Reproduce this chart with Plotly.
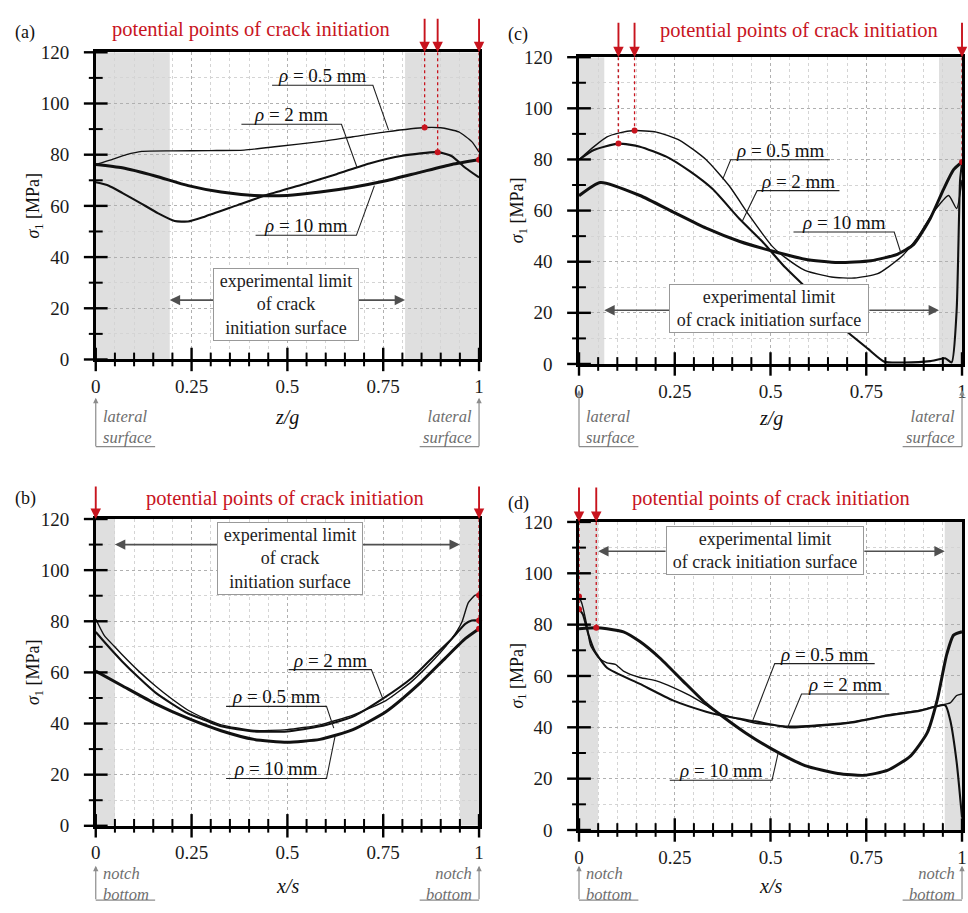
import plotly.graph_objects as go

SERIF = "Liberation Serif, Times New Roman, serif"
RED = "#c8141e"
INK = "#111111"
W, H = 968, 913

# ---------------- data: (a) sigma_1 along z/g ----------------
a_x_05 = [0, 0.04, 0.08, 0.12, 0.2, 0.3, 0.387, 0.473, 0.585, 0.671, 0.757, 0.858, 0.9, 0.947, 0.981, 1.0]
a_y_05 = [76.2, 78.0, 80.0, 81.3, 81.5, 81.6, 81.8, 83.2, 85.1, 87.0, 88.9, 90.6, 90.5, 88.9, 85.1, 81.0]
a_x_2 = [0, 0.034, 0.07, 0.112, 0.163, 0.206, 0.241, 0.284, 0.37, 0.451, 0.542, 0.628, 0.714, 0.8, 0.892, 0.929, 0.964, 1.0]
a_y_2 = [69.2, 67.9, 65.0, 61.5, 57.1, 54.1, 53.9, 55.8, 60.3, 64.5, 68.5, 72.4, 76.6, 79.6, 81.0, 79.4, 74.9, 71.1]
a_x_10 = [0, 0.069, 0.155, 0.241, 0.327, 0.413, 0.499, 0.585, 0.671, 0.757, 0.843, 0.929, 1.0]
a_y_10 = [76.2, 74.9, 71.7, 67.9, 65.4, 64.1, 64.1, 65.4, 67.3, 69.8, 73.0, 76.2, 78.0]

# ---------------- data: (c) sigma_1 along z/g ----------------
c_x_05 = [0, 0.039, 0.073, 0.103, 0.145, 0.202, 0.263, 0.332, 0.392, 0.444, 0.504, 0.538, 0.59, 0.659,
          0.719, 0.78, 0.84, 0.883, 0.926, 0.965, 0.986, 1.0]
c_y_05 = [79.9, 85.0, 88.8, 90.3, 91.3, 90.7, 87.5, 79.9, 69.7, 58.2, 46.1, 41.7, 36.6, 34.0,
          33.6, 35.3, 41.7, 49.3, 59.5, 65.9, 60.8, 72.0]
c_x_2 = [0, 0.039, 0.103, 0.159, 0.228, 0.289, 0.349, 0.418, 0.478, 0.538, 0.59, 0.642, 0.702, 0.754,
         0.797, 0.848, 0.917, 0.956, 0.973, 0.986, 0.995, 1.0]
c_y_2 = [79.9, 83.7, 86.2, 85.0, 81.1, 75.4, 68.4, 56.9, 48.0, 37.8, 30.2, 21.3, 12.4, 6.0,
         0.9, 0.6, 1.1, 2.2, 0.6, 21.0, 72.0, 78.6]
c_x_10 = [0, 0.056, 0.159, 0.245, 0.332, 0.418, 0.504, 0.59, 0.676, 0.762, 0.831, 0.874, 0.917, 0.952, 0.978, 1.0]
c_y_10 = [65.8, 71.0, 65.9, 59.5, 53.1, 48.0, 44.2, 41.0, 39.7, 40.4, 42.9, 46.8, 56.9, 68.4, 76.0, 79.0]

# ---------------- data: (b) sigma_1 along x/s ----------------
b_x_05 = [0, 0.022, 0.047, 0.069, 0.112, 0.155, 0.198, 0.241, 0.284, 0.327, 0.413, 0.499, 0.585, 0.671,
          0.757, 0.826, 0.886, 0.929, 0.955, 0.972, 0.99, 1.0]
b_y_05 = [80.9, 74.5, 70.4, 66.9, 60.5, 54.8, 49.7, 45.2, 42.0, 39.5, 37.3, 37.6, 39.5, 43.3,
          49.0, 56.7, 65.6, 73.2, 79.6, 87.3, 90.2, 90.2]
b_x_2 = [0, 0.026, 0.069, 0.112, 0.155, 0.198, 0.241, 0.284, 0.327, 0.413, 0.499, 0.585, 0.671, 0.749,
         0.826, 0.886, 0.929, 0.964, 0.981, 1.0]
b_y_2 = [75.8, 71.3, 64.3, 58.0, 52.2, 47.8, 43.9, 41.4, 38.9, 36.9, 36.9, 38.9, 42.7, 49.7,
         58.0, 66.9, 73.2, 79.0, 80.3, 80.3]
b_x_10 = [0, 0.069, 0.155, 0.241, 0.327, 0.413, 0.499, 0.585, 0.671, 0.757, 0.843, 0.912, 0.964, 1.0]
b_y_10 = [60.5, 54.8, 47.8, 42.0, 37.2, 33.8, 32.7, 33.8, 37.6, 44.6, 55.4, 65.6, 73.2, 77.1]

# ---------------- data: (d) sigma_1 along x/s ----------------
d_x_05 = [0, 0.008, 0.02, 0.03, 0.052, 0.073, 0.095, 0.116, 0.159, 0.202, 0.245, 0.289, 0.332, 0.366,
          0.461, 0.547, 0.633, 0.719, 0.805, 0.891, 0.943, 0.969, 0.986, 1.0]
d_y_05 = [91.0, 88.0, 80.0, 72.0, 67.0, 65.1, 64.5, 61.9, 59.4, 58.1, 55.6, 52.4, 48.6, 45.4,
          41.6, 40.4, 41.0, 42.3, 44.8, 46.7, 48.6, 49.5, 52.4, 53.0]
d_x_2 = [0, 0.01, 0.025, 0.04, 0.073, 0.159, 0.245, 0.332, 0.366, 0.461, 0.547, 0.633, 0.719, 0.805,
         0.891, 0.956, 0.969, 0.986, 1.0]
d_y_2 = [86.0, 84.0, 76.0, 70.0, 63.2, 56.9, 50.5, 46.1, 44.8, 42.3, 40.0, 40.7, 42.0, 44.5,
         46.5, 48.6, 42.9, 26.4, 4.8]
d_x_10 = [0, 0.045, 0.073, 0.116, 0.159, 0.211, 0.271, 0.332, 0.375, 0.435, 0.504, 0.59, 0.676, 0.745,
          0.805, 0.866, 0.909, 0.935, 0.96, 0.978, 1.0]
d_y_10 = [78.4, 78.8, 78.4, 77.2, 73.4, 67.0, 58.1, 49.2, 44.2, 37.8, 31.5, 25.1, 22.0, 21.3,
          23.2, 28.9, 37.8, 50.5, 68.3, 75.9, 77.2]

# potential crack initiation points (x position, stress values marked)
a_init = [(0.858, [90.6]), (0.892, [81.0]), (1.0, [78.0])]
c_init = [(0.103, [86.2]), (0.145, [91.3]), (1.0, [79.0])]
b_init = [(0.0, []), (1.0, [90.2, 80.3, 77.1])]
d_init = [(0.0, [91.0, 86.0]), (0.045, [78.8])]

RHO = ["<i>ρ</i> = 0.5 mm", "<i>ρ</i> = 2 mm", "<i>ρ</i> = 10 mm"]
WIDTHS = [1.4, 2.1, 3.0]
Y_TICKS = [0, 20, 40, 60, 80, 100, 120]
Y_MINOR = [10, 30, 50, 70, 90, 110]
X_TICKS = [0, 0.25, 0.5, 0.75, 1]
X_TICK_TEXT = ["0", "0.25", "0.5", "0.75", "1"]
X_MINOR = [round(0.05 * i, 2) for i in range(1, 20) if i % 5]
X_RANGE = (0.0, 1.0)
Y_RANGE = (0.0, 120.0)


def px(p):
    return p / W


def py(p):
    return 1 - p / H


panels = [
    dict(n=1, letter="(a)", pxr=(91.7, 479.0), pyr=(43.3, 357.7), xt="<i>z/g</i>",
         note="lateral<br>surface",
         series=[(a_x_05, a_y_05), (a_x_2, a_y_2), (a_x_10, a_y_10)],
         shade=[(0, 0.193), (0.807, 1)], init=a_init,
         labels=[(0, 0.46, 0.723, 107.1, "r", 0.764, 89.6),
                 (1, 0.38, 0.641, 91.9, "r", 0.682, 74.9),
                 (2, 0.417, 0.68, 48.5, "r", 0.727, 67.9)],
         box=("experimental limit<br>of crack<br>initiation surface", 0.497, 21.3, 140,
              23.2, (0.193, 0.31), (0.807, 0.682)),
         xt_py=416.7, yt_px=30, note_tip=397, note_bot=447, note_cy=426.5,
         title_cx=249, title_cy=20, letter_pos=(8, 23), arrow_len=35),
    dict(n=2, letter="(c)", pxr=(580.0, 967.0), pyr=(48.3, 362.3), xt="<i>z/g</i>",
         note="lateral<br>surface",
         series=[(c_x_05, c_y_05), (c_x_2, c_y_2), (c_x_10, c_y_10)],
         shade=[(0, 0.066), (0.94, 1)], init=c_init,
         labels=[(0, 0.396, 0.655, 79.9, "l", 0.375, 72.2),
                 (1, 0.465, 0.68, 67.8, "l", 0.426, 55.7),
                 (2, 0.56, 0.823, 51.6, "r", 0.84, 43.6)],
         box=("experimental limit<br>of crack initiation surface", 0.497, 21.8, 194,
              21.0, (0.066, 0.24), (0.94, 0.754)),
         xt_py=418, yt_px=519, note_tip=389, note_bot=447, note_cy=427,
         title_cx=802, title_cy=21, letter_pos=(506, 25), arrow_len=36),
    dict(n=3, letter="(b)", pxr=(91.7, 479.0), pyr=(521.0, 835.0), xt="<i>x/s</i>",
         note="notch<br>bottom",
         series=[(b_x_05, b_y_05), (b_x_2, b_y_2), (b_x_10, b_y_10)],
         shade=[(0, 0.05), (0.95, 1)], init=b_init,
         labels=[(1, 0.503, 0.719, 61.1, "r", 0.749, 49.7),
                 (0, 0.34, 0.602, 46.7, "r", 0.621, 38.2),
                 (2, 0.34, 0.602, 18.5, "r", 0.624, 34.8)],
         box=("experimental limit<br>of crack<br>initiation surface", 0.507, 104.5, 140,
              110.0, (0.05, 0.321), (0.95, 0.693)),
         xt_py=896.7, yt_px=30, note_tip=876, note_bot=911, note_cy=895,
         title_cx=283, title_cy=500, letter_pos=(8, 500), arrow_len=34),
    dict(n=4, letter="(d)", pxr=(580.0, 967.0), pyr=(524.0, 839.3), xt="<i>x/s</i>",
         note="notch<br>bottom",
         series=[(d_x_05, d_y_05), (d_x_2, d_y_2), (d_x_10, d_y_10)],
         shade=[(0, 0.05), (0.955, 1)], init=d_init,
         labels=[(0, 0.511, 0.772, 64.8, "l", 0.454, 42.8),
                 (1, 0.581, 0.81, 53.0, "l", 0.544, 39.7),
                 (2, 0.237, 0.504, 19.4, "r", 0.52, 30.0)],
         box=("experimental limit<br>of crack initiation surface", 0.485, 109.0, 192,
              108.6, (0.05, 0.23), (0.955, 0.741)),
         xt_py=896.7, yt_px=519, note_tip=876, note_bot=911, note_cy=895,
         title_cx=774, title_cy=500, letter_pos=(506, 505), arrow_len=36),
]

fig = go.Figure()
layout = dict(width=W, height=H, margin=dict(l=0, r=0, t=0, b=0),
              paper_bgcolor="white", plot_bgcolor="white", showlegend=False,
              font=dict(family=SERIF, color=INK))
shapes, annotations = [], []

tickfont = dict(family=SERIF, size=19, color="#1a1a1a")
GRID_MAJ = "#b0b0b0"
GRID_MIN = "#d4d4d4"
MAJ_LEN, MIN_LEN = 12, 7   # half-lengths of the crossing ticks, in pixels

for p in panels:
    n = p["n"]
    xs = "x" if n == 1 else f"x{n}"
    ys = "y" if n == 1 else f"y{n}"
    xk = "xaxis" if n == 1 else f"xaxis{n}"
    yk = "yaxis" if n == 1 else f"yaxis{n}"
    dom_x = [px(p["pxr"][0]), min(px(p["pxr"][1]), 1.0)]
    dom_y = [py(p["pyr"][1]), py(p["pyr"][0])]

    layout[xk] = dict(domain=dom_x, range=list(X_RANGE), anchor=ys, showline=True,
                      linecolor="black", linewidth=2.6, mirror=True, zeroline=False,
                      tickmode="array", tickvals=X_TICKS, ticktext=X_TICK_TEXT, ticks="",
                      tickfont=tickfont, ticklabelstandoff=8,
                      showgrid=True, gridcolor=GRID_MAJ, griddash="dot", gridwidth=1,
                      minor=dict(tick0=0, dtick=0.05, ticks="", showgrid=True,
                                 gridcolor=GRID_MIN, griddash="dot", gridwidth=1),
                      fixedrange=True)
    layout[yk] = dict(domain=dom_y, range=list(Y_RANGE), anchor=xs, showline=True,
                      linecolor="black", linewidth=2.6, mirror=True, zeroline=False,
                      tickmode="array", tickvals=Y_TICKS, ticks="",
                      tickfont=tickfont, ticklabelstandoff=20,
                      showgrid=True, gridcolor=GRID_MAJ, griddash="dot", gridwidth=1,
                      minor=dict(tick0=0, dtick=10, ticks="", showgrid=True,
                                 gridcolor=GRID_MIN, griddash="dot", gridwidth=1),
                      fixedrange=True)

    # crossing tick marks along the bottom and left axis lines
    x_base, y_base = dom_y[0], dom_x[0]
    for vals, ln, wd in ((X_TICKS, MAJ_LEN, 2.4), (X_MINOR, MIN_LEN, 2.0)):
        for v in vals:
            xp = dom_x[0] + (v - X_RANGE[0]) / (X_RANGE[1] - X_RANGE[0]) * (
                px(p["pxr"][1]) - dom_x[0])
            shapes.append(dict(type="line", xref="paper", yref="paper", x0=xp, x1=xp,
                               y0=x_base - ln / H, y1=x_base + ln / H,
                               line=dict(color="black", width=wd), layer="above"))
    for vals, ln, wd in ((Y_TICKS, MAJ_LEN, 2.4), (Y_MINOR, MIN_LEN, 2.0)):
        for v in vals:
            yp = dom_y[0] + (v - Y_RANGE[0]) / (Y_RANGE[1] - Y_RANGE[0]) * (dom_y[1] - dom_y[0])
            shapes.append(dict(type="line", xref="paper", yref="paper",
                               x0=y_base - ln / W, x1=y_base + ln / W, y0=yp, y1=yp,
                               line=dict(color="black", width=wd), layer="above"))

    # shaded bands outside the experimental limit
    for x0, x1 in p["shade"]:
        shapes.append(dict(type="rect", xref=xs, yref=ys, x0=x0, x1=x1, y0=0, y1=120,
                           fillcolor="#dfdfdf", line=dict(width=0), layer="below"))

    # stress curves
    for (sx, sy), w in zip(p["series"], WIDTHS):
        fig.add_trace(go.Scatter(x=sx, y=sy, xaxis=xs, yaxis=ys, mode="lines",
                                 line=dict(color=INK, width=w, shape="spline", smoothing=0.55),
                                 hoverinfo="skip", showlegend=False))

    # crack initiation markers
    dot_x, dot_y = [], []
    for xv, vals in p["init"]:
        annotations.append(dict(x=xv, y=120, xref=xs, yref=ys, text="", showarrow=True,
                                ax=0, ay=-p["arrow_len"], arrowhead=2, arrowsize=1.1,
                                arrowwidth=1.9, arrowcolor=RED))
        if vals:
            shapes.append(dict(type="line", xref=xs, yref=ys, x0=xv, x1=xv, y0=120, y1=min(vals),
                               line=dict(color=RED, width=1.3, dash="dot"), layer="above"))
            for v in vals:
                dot_x.append(xv)
                dot_y.append(v)
    fig.add_trace(go.Scatter(x=dot_x, y=dot_y, xaxis=xs, yaxis=ys, mode="markers",
                             marker=dict(color=RED, size=6), cliponaxis=False,
                             hoverinfo="skip", showlegend=False))

    # curve labels with underline and leader line
    for idx, ux0, ux1, uy, side, ex, ey in p["labels"]:
        if side == "r":
            path = f"M {ux0},{uy} L {ux1},{uy} L {ex},{ey}"
        else:
            path = f"M {ex},{ey} L {ux0},{uy} L {ux1},{uy}"
        shapes.append(dict(type="path", xref=xs, yref=ys, path=path,
                           line=dict(color="#222222", width=1.1), layer="above"))
        annotations.append(dict(x=(ux0 + ux1) / 2, y=uy, xref=xs, yref=ys, text=RHO[idx],
                                showarrow=False, xanchor="center", yanchor="bottom", yshift=-3,
                                font=dict(family=SERIF, size=19, color=INK)))

    # experimental limit box and arrows
    btxt, bx, by, bw, ay_, (lt, lb), (rt, rb) = p["box"]
    for tip, tail in ((lt, lb), (rt, rb)):
        annotations.append(dict(x=tip, y=ay_, ax=tail, ay=ay_, xref=xs, yref=ys, axref=xs,
                                ayref=ys, text="", showarrow=True, arrowhead=2, arrowsize=1.3,
                                arrowwidth=1.6, arrowcolor="#505050"))
    annotations.append(dict(x=bx, y=by, xref=xs, yref=ys, text=btxt, showarrow=False,
                            xanchor="center", yanchor="middle", width=bw, align="center",
                            bgcolor="white", bordercolor="#999999", borderwidth=1, borderpad=2,
                            font=dict(family=SERIF, size=18, color="#222222")))

    # titles and labels
    annotations.append(dict(x=px(p["title_cx"]), y=py(p["title_cy"]), xref="paper", yref="paper",
                            text="potential points of crack initiation", showarrow=False,
                            xanchor="center", yanchor="middle",
                            font=dict(family=SERIF, size=20.5, color=RED)))
    annotations.append(dict(x=px(p["letter_pos"][0]), y=py(p["letter_pos"][1]), xref="paper",
                            yref="paper", text=p["letter"], showarrow=False, xanchor="left",
                            yanchor="middle", font=dict(family=SERIF, size=18, color=INK)))
    cx = (p["pxr"][0] + p["pxr"][1]) / 2
    annotations.append(dict(x=px(cx), y=py(p["xt_py"]), xref="paper", yref="paper",
                            text=p["xt"], showarrow=False, xanchor="center", yanchor="middle",
                            font=dict(family=SERIF, size=20, color=INK)))
    cy = (p["pyr"][0] + p["pyr"][1]) / 2
    annotations.append(dict(x=px(p["yt_px"]), y=py(cy), xref="paper", yref="paper",
                            text="<i>σ</i><sub>1</sub> [MPa]", showarrow=False, textangle=-90,
                            xanchor="center", yanchor="middle",
                            font=dict(family=SERIF, size=18, color=INK)))

    # surface notes below both ends of the x axis
    left, right = p["pxr"]
    for edge, sgn in ((left, 1), (right, -1)):
        annotations.append(dict(x=px(edge), y=py(p["note_tip"]), xref="paper", yref="paper",
                                text="", showarrow=True, ax=0, ay=p["note_bot"] - p["note_tip"],
                                arrowhead=2, arrowsize=0.9, arrowwidth=1.2, arrowcolor="#8c8c8c"))
        shapes.append(dict(type="line", xref="paper", yref="paper", x0=px(edge),
                           x1=px(edge + sgn * 60), y0=py(p["note_bot"]), y1=py(p["note_bot"]),
                           line=dict(color="#8c8c8c", width=1.2)))
        annotations.append(dict(x=px(edge + sgn * 5), y=py(p["note_cy"]), xref="paper",
                                yref="paper", text=f"<i>{p['note']}</i>", showarrow=False,
                                xanchor="left" if sgn > 0 else "right", yanchor="middle",
                                align="left" if sgn > 0 else "right",
                                font=dict(family=SERIF, size=16.5, color="#6e6e6e")))

layout["shapes"] = shapes
layout["annotations"] = annotations
fig.update_layout(**layout)
fig.write_html("out.html")
